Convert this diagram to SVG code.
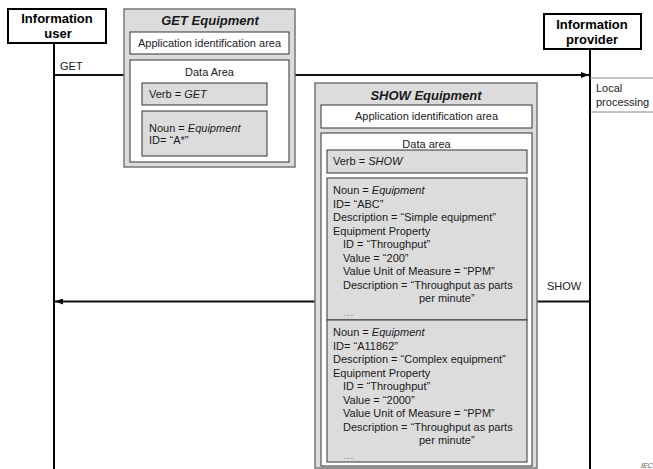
<svg xmlns="http://www.w3.org/2000/svg" width="653" height="469" viewBox="0 0 653 469">
<defs>
<style>
text{font-family:"Liberation Sans",Arial,sans-serif;font-size:11px;fill:#1a1a1a}
.hd{font-size:13px;font-weight:bold;text-anchor:middle;fill:#000}
.ttl{font-size:13px;font-weight:bold;font-style:italic;text-anchor:middle}
.c{text-anchor:middle}
.it{font-style:italic}
.dots{fill:#888}
.actor{fill:#fff;stroke:#000;stroke-width:2}
.outer{fill:#dcdcdc;stroke:#777;stroke-width:1.5}
.white{fill:#fff;stroke:#333;stroke-width:1}
.grey{fill:#dcdcdc;stroke:#333;stroke-width:1}
.life{stroke:#000;stroke-width:2;fill:none}
.msg{stroke:#111;stroke-width:2;fill:none}
.thin{stroke:#888;stroke-width:1;fill:none}
</style>
<marker id="ah" viewBox="0 0 8 6" refX="8" refY="3" markerWidth="8" markerHeight="6" markerUnits="userSpaceOnUse" orient="auto">
<path d="M0,0 L8,3 L0,6 z" fill="#000"/>
</marker>
</defs>

<g id="connectors">
<line class="life" x1="54" y1="43" x2="54" y2="469"/>
<line class="life" x1="590" y1="49" x2="590" y2="469"/>
<line class="msg" x1="54" y1="75" x2="589" y2="75" marker-end="url(#ah)"/>
<line class="msg" x1="589" y1="301.5" x2="55" y2="301.5" marker-end="url(#ah)"/>
<line class="thin" x1="590" y1="78" x2="653" y2="78"/>
<line class="thin" x1="590" y1="112" x2="653" y2="112"/>
<text x="60" y="70">GET</text>
<text x="547" y="290">SHOW</text>
<text x="596" y="92">Local</text>
<text x="596" y="106">processing</text>
</g>

<g id="information-user">
<rect class="actor" x="8" y="9" width="98" height="34"/>
<text class="hd" x="57" y="23">Information</text>
<text class="hd" x="58" y="38">user</text>
</g>

<g id="information-provider">
<rect class="actor" x="544" y="14" width="97" height="35"/>
<text class="hd" x="592" y="29">Information</text>
<text class="hd" x="592" y="44">provider</text>
</g>

<g id="get-equipment">
<rect class="outer" x="124" y="9" width="171" height="158"/>
<text class="ttl" x="210" y="25">GET Equipment</text>
<rect class="white" x="130" y="32" width="159" height="22"/>
<text class="c" x="209.5" y="47">Application identification area</text>
<rect class="white" x="130" y="60" width="159" height="102"/>
<text class="c" x="209.5" y="76">Data Area</text>
<rect class="grey" x="142" y="83" width="125" height="22"/>
<text x="149" y="98">Verb = <tspan class="it">GET</tspan></text>
<rect class="grey" x="142" y="111" width="125" height="45"/>
<text x="149" y="132">Noun = <tspan class="it">Equipment</tspan></text>
<text x="149" y="144">ID= “A*”</text>
</g>

<g id="show-equipment">
<rect class="outer" x="315" y="83" width="222" height="385"/>
<text class="ttl" x="426" y="100">SHOW Equipment</text>
<rect class="white" x="321" y="105" width="211" height="23"/>
<text class="c" x="426.5" y="120">Application identification area</text>
<rect class="white" x="321" y="133" width="211" height="333"/>
<text class="c" x="426.5" y="148">Data area</text>
<rect class="grey" x="327" y="150" width="200" height="23"/>
<text x="333" y="165">Verb = <tspan class="it">SHOW</tspan></text>
<rect class="grey" x="327" y="178" width="200" height="142"/>
<text x="333" y="194">Noun = <tspan class="it">Equipment</tspan></text>
<text x="333" y="207.5">ID= “ABC”</text>
<text x="333" y="221">Description = “Simple equipment”</text>
<text x="333" y="234.5">Equipment Property</text>
<text x="343" y="248">ID = “Throughput”</text>
<text x="343" y="261.5">Value = “200”</text>
<text x="343" y="275">Value Unit of Measure = “PPM”</text>
<text x="343" y="288.5">Description = “Throughput as parts</text>
<text x="419" y="302">per minute”</text>
<text class="dots" x="343" y="316">…</text>
<rect class="grey" x="327" y="320" width="200" height="142"/>
<text x="333" y="336">Noun = <tspan class="it">Equipment</tspan></text>
<text x="333" y="349.5">ID= “A11862”</text>
<text x="333" y="363">Description = “Complex equipment”</text>
<text x="333" y="376.5">Equipment Property</text>
<text x="343" y="390">ID = “Throughput”</text>
<text x="343" y="403.5">Value = “2000”</text>
<text x="343" y="417">Value Unit of Measure = “PPM”</text>
<text x="343" y="430.5">Description = “Throughput as parts</text>
<text x="419" y="444">per minute”</text>
<text class="dots" x="343" y="459">…</text>
</g>

<text x="641" y="468" style="font-size:7px;font-style:italic;fill:#555">IEC</text>
</svg>
